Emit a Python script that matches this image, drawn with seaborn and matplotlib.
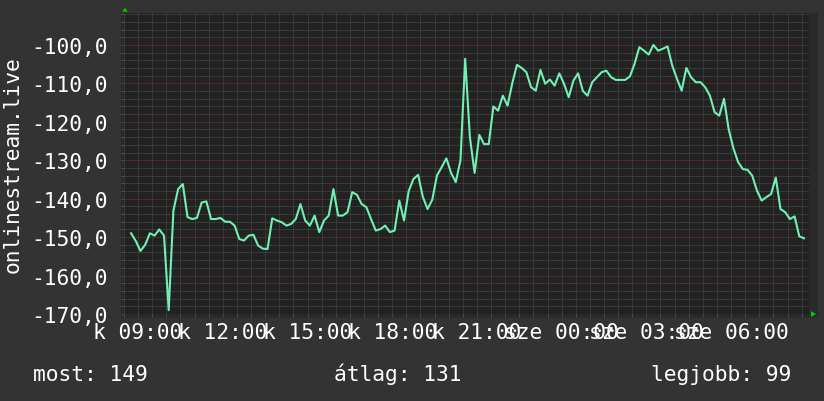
# Import matplotlib so we can create and save the chart.
import matplotlib.pyplot as plt

# Import seaborn so we can draw the line with it.
import seaborn as sns

# Import pandas so the line data sits in a small table.
import pandas as pd

# Import Rectangle and Polygon for the frame strip and the axis arrows.
from matplotlib.patches import Rectangle, Polygon


# -----------------------------
# Data
# -----------------------------

# Hours after 09:00 of the first reading, one reading every 10 minutes.
START_HOUR = -0.25
STEP_HOURS = 10 / 60

# Signal values, one every 10 minutes.
signal_values = [
    -149.0, -151.0, -153.6, -152.0, -149.0, -149.6, -148.0, -149.6, -169.0, -143.1,
    -137.5, -136.2, -144.8, -145.3, -145.0, -141.0, -140.7, -145.3, -145.3, -145.0,
    -146.0, -146.0, -147.0, -150.5, -150.9, -149.6, -149.4, -152.2, -153.0, -153.1,
    -145.1, -145.7, -146.1, -147.0, -146.6, -145.3, -141.4, -145.7, -147.0, -144.4,
    -148.7, -145.7, -144.4, -137.5, -144.4, -144.4, -143.5, -138.3, -139.0, -141.4,
    -142.2, -145.3, -148.3, -147.9, -147.0, -148.7, -148.3, -140.5, -145.7, -138.0,
    -134.9, -133.8, -139.5, -142.7, -140.3, -134.0, -131.8, -129.5, -133.3, -135.7,
    -130.0, -103.6, -124.0, -133.3, -123.4, -125.8, -125.8, -116.0, -117.1, -113.2,
    -115.8, -110.0, -105.2, -106.0, -107.1, -111.0, -111.9, -106.5, -110.1, -109.0,
    -110.6, -107.4, -110.1, -113.6, -109.3, -107.4, -112.0, -113.2, -109.7, -108.4,
    -107.1, -106.7, -108.4, -109.1, -109.1, -109.1, -108.2, -104.9, -100.6, -101.5,
    -102.5, -100.0, -101.5, -101.0, -100.4, -105.4, -108.8, -111.9, -106.0, -108.4,
    -109.7, -109.7, -111.0, -113.2, -117.5, -118.4, -114.0, -122.0, -126.9, -130.5,
    -132.3, -132.5, -134.0, -137.9, -140.5, -139.6, -138.8, -134.5, -142.7, -143.5,
    -145.3, -144.6, -149.8, -150.3,
]

# Tick positions (hours after 09:00) and their labels.
x_label_hours = [0, 3, 6, 9, 12, 15, 18, 21]
x_tick_labels = ["k 09:00", "k 12:00", "k 15:00", "k 18:00", "k 21:00",
                 "sze 00:00", "sze 03:00", "sze 06:00"]
y_tick_values = [-170, -160, -150, -140, -130, -120, -110, -100]
y_tick_labels = ["-170,0", "-160,0", "-150,0", "-140,0", "-130,0",
                 "-120,0", "-110,0", "-100,0"]

# Summary texts printed under the graph.
summary_texts = ["most: 149", "átlag: 131", "legjobb: 99"]

# Name of the series, shown on the vertical axis.
series_name = "onlinestream.live"


# -----------------------------
# Style
# -----------------------------

BACK_COLOR = "#333333"
CANVAS_COLOR = "#222222"
STRIP_COLOR = "#2a2a2a"
GRID_COLOR = "#505050"
MGRID_COLOR = "#7a3434"
LINE_COLOR = "#70f0b2"
ARROW_COLOR = "#00cc00"
FONT_SIZE = 15.3

# Use a monospace font like the original graph.
plt.rcParams["font.family"] = ["DejaVu Sans Mono"]
plt.rcParams["text.color"] = "white"


# Build the table for seaborn.
df = pd.DataFrame({
    "hour": [START_HOUR + i * STEP_HOURS for i in range(len(signal_values))],
    "value": signal_values,
})

W, H = 824, 402

# Create the figure at the original pixel size.
fig = plt.figure(figsize=(W / 100, H / 100), dpi=100, facecolor=BACK_COLOR)

# Plot area in pixels: left, right, top, bottom.
left, right, top, bottom = 124, 809, 14, 315

# Lighter strip around the canvas (drawn behind the axes).
fig.patches.append(Rectangle((121 / W, 1 - 319 / H), (818 - 121) / W, (319 - top) / H,
                             transform=fig.transFigure, facecolor=STRIP_COLOR,
                             edgecolor="none", zorder=-5))

ax = fig.add_axes([left / W, 1 - bottom / H, (right - left) / W, (bottom - top) / H])
ax.set_facecolor(CANVAS_COLOR)
ax.set_zorder(1)

# Draw the signal line.
sns.lineplot(data=df, x="hour", y="value", ax=ax, color=LINE_COLOR,
             linewidth=1.5, zorder=5)

# Axis ranges.
ax.set_xlim(-0.291, 23.76)
ax.set_ylim(-170, -91.7)

# Hourly and half hourly ticks; labels every three hours.
ax.set_xticks(list(range(0, 24)))
ax.set_xticklabels([x_tick_labels[x_label_hours.index(h)] if h in x_label_hours else ""
                    for h in range(0, 24)])
ax.set_xticks([h + 0.5 for h in range(-1, 24)], minor=True)
ax.set_yticks(y_tick_values)
ax.set_yticklabels(y_tick_labels)
ax.set_yticks([v for v in range(-170, -90, 2) if v % 10 != 0], minor=True)

# Dotted grid lines: gray verticals, red horizontal majors.
ax.grid(which="minor", color=GRID_COLOR, linestyle=(0, (1, 1)), linewidth=0.72)
ax.grid(which="major", axis="x", color=GRID_COLOR, linestyle=(0, (1, 1)), linewidth=0.72)
ax.grid(which="major", axis="y", color=MGRID_COLOR, linestyle=(0, (1, 1)), linewidth=0.72)
ax.set_axisbelow(True)

# Tick marks and tick label placement.
ax.tick_params(axis="x", which="major", colors=MGRID_COLOR, length=2.2, width=0.72,
               pad=3.6, labelsize=FONT_SIZE, labelcolor="white")
ax.tick_params(axis="x", which="minor", colors=GRID_COLOR, length=2.2, width=0.72)
ax.tick_params(axis="y", which="major", colors=MGRID_COLOR, length=2.2, width=0.72,
               pad=9.3, labelsize=FONT_SIZE, labelcolor="white")
ax.tick_params(axis="y", which="minor", colors=GRID_COLOR, length=2.2, width=0.72)

# No axis titles, no frame.
ax.set_xlabel("")
ax.set_ylabel("")
for spine in ax.spines.values():
    spine.set_visible(False)

# Green arrows at the axis ends.
fig.patches.append(Polygon([(122.3 / W, 1 - 12.7 / H), (127.7 / W, 1 - 12.7 / H),
                            (125 / W, 1 - 8.5 / H)], closed=True,
                           transform=fig.transFigure, facecolor=ARROW_COLOR,
                           edgecolor="none", zorder=10))
fig.patches.append(Polygon([(811 / W, 1 - 312 / H), (811 / W, 1 - 318 / H),
                            (816 / W, 1 - 315 / H)], closed=True,
                           transform=fig.transFigure, facecolor=ARROW_COLOR,
                           edgecolor="none", zorder=10))

# Series name on the left side.
fig.text(13 / W, 1 - 165 / H, series_name, rotation=90, ha="center", va="center",
         fontsize=FONT_SIZE)

# Summary line at the bottom.
fig.text(33 / W, 1 - 381 / H, summary_texts[0], ha="left", va="baseline", fontsize=FONT_SIZE)
fig.text(334 / W, 1 - 381 / H, summary_texts[1], ha="left", va="baseline", fontsize=FONT_SIZE)
fig.text(791 / W, 1 - 381 / H, summary_texts[2], ha="right", va="baseline", fontsize=FONT_SIZE)

# Save the chart as a PNG image.
fig.savefig("out.png", dpi=100, facecolor=BACK_COLOR)

# Close the chart.
plt.close(fig)
